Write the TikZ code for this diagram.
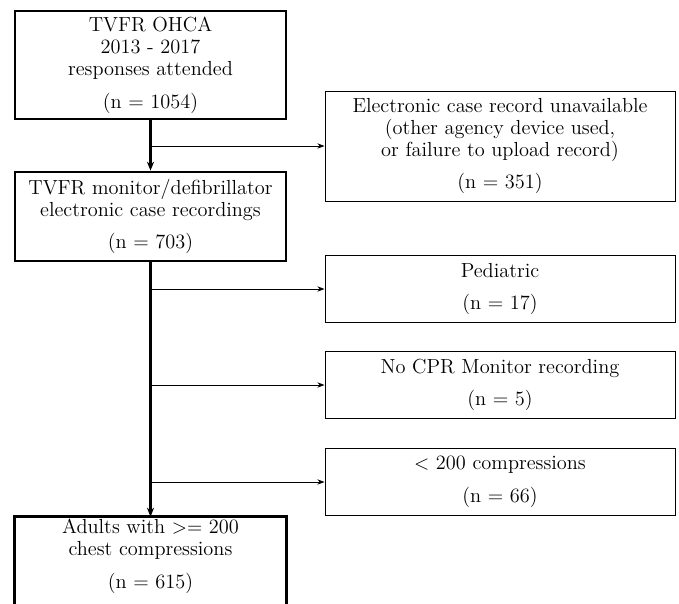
\documentclass[tikz,border=0pt]{standalone}
\usetikzlibrary{arrows.meta}
\begin{document}
\begin{tikzpicture}[x=0.56pt,y=-0.56pt,
  font=\fontsize{11.4}{12.3}\selectfont,
  mainline/.style={line width=1.6pt},
  mainbox/.style={draw, mainline, minimum width=151.8pt, align=center, inner sep=0pt},
  sidebox/.style={draw, line width=0.55pt, minimum width=196pt, align=center, inner sep=0pt},
  trunk/.style={line width=1.4pt, -{Stealth[length=5pt,width=4pt]}},
  branch/.style={line width=0.5pt, -{Stealth[length=4pt,width=3pt]}}]
\useasboundingbox (0,0) rectangle (679,603);
\node[mainbox, minimum height=60.5pt] (a) at (150.5,65) {TVFR OHCA\\2013 - 2017\\responses attended\\[6pt](n = 1054)};
\node[mainbox, minimum height=49.8pt] (b) at (150.5,216.5) {TVFR monitor/defibrillator\\electronic case recordings\\[6pt](n = 703)};
\node[minimum width=151.8pt, minimum height=43.7pt, align=center, inner sep=0pt] (c) at (150.5,556) {Adults with $>=$ 200\\chest compressions\\[6pt](n = 615)};
\draw[mainline] ([yshift=-20pt]c.south west) -- (c.north west) -- (c.north east) -- ([yshift=-20pt]c.south east);
\node[sidebox, minimum height=61.6pt] (r1) at (500,146) {Electronic case record unavailable\\(other agency device used,\\or failure to upload record)\\[6pt](n = 351)};
\node[sidebox, minimum height=37pt] (r2) at (500,289) {Pediatric\\[6pt](n = 17)};
\node[sidebox, minimum height=37pt] (r3) at (500,385) {No CPR Monitor recording\\[6pt](n = 5)};
\node[sidebox, minimum height=37pt] (r4) at (500,482) {$<$ 200 compressions\\[6pt](n = 66)};
\draw[trunk] (a) -- (b);
\draw[trunk] (b) -- (c);
\coordinate (j1) at (a.south |- r1.west);
\coordinate (j2) at (b.south |- r2.west);
\coordinate (j3) at (b.south |- r3.west);
\coordinate (j4) at (b.south |- r4.west);
\draw[branch] (j1) -- (r1.west);
\draw[branch] (j2) -- (r2.west);
\draw[branch] (j3) -- (r3.west);
\draw[branch] (j4) -- (r4.west);
\end{tikzpicture}
\end{document}
